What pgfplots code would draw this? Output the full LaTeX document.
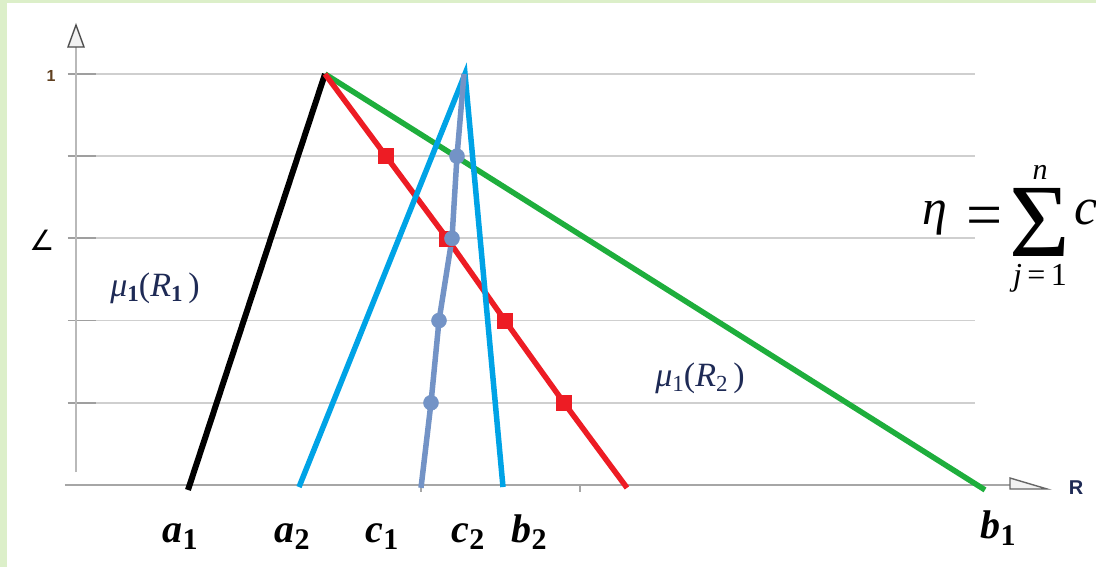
\documentclass[border=0pt]{standalone}
\usepackage{fontspec}
\setmainfont{Liberation Serif}
\setsansfont{Liberation Sans}
\newfontfamily\dejavu{DejaVu Sans}
\usepackage{pgfplots}
\pgfplotsset{compat=1.18}
\definecolor{bgreen}{HTML}{DCEFC9}
\definecolor{lred}{HTML}{ED1C24}
\definecolor{lgreen}{HTML}{1EAE3C}
\definecolor{lcyan}{HTML}{00A3E6}
\definecolor{lsteel}{HTML}{7393C6}
\definecolor{gridc}{HTML}{CFCFCF}
\definecolor{navy}{HTML}{1E2A55}
\newcommand{\lab}[2]{{\fontsize{40}{40}\selectfont\bfseries\itshape #1}{\raisebox{-7pt}{\fontsize{30}{30}\selectfont\bfseries #2}}}
\newcommand{\mulab}[2]{{\fontsize{34}{34}\selectfont\itshape μ}\raisebox{-5pt}{\fontsize{23}{23}\selectfont #1}{\fontsize{34}{34}\selectfont(\textit{R}}\raisebox{-5pt}{\fontsize{23}{23}\selectfont #2}{\fontsize{34}{34}\selectfont\,)}}
\newcommand{\sumstack}{\vbox{\offinterlineskip\halign{\hfil##\hfil\cr
  \fontsize{30}{30}\selectfont\itshape n\cr
  \noalign{\kern9pt}
  \fontsize{104}{104}\selectfont Σ\cr
  \noalign{\kern8pt}
  \fontsize{32}{32}\selectfont\textit{j}\,=\,1\cr}}}
\begin{document}
\begin{tikzpicture}[x=1pt,y=1pt]
\fill[bgreen] (0,0) rectangle (1096,567);
\fill[white] (7,0) rectangle (1096,564);
\begin{axis}[at={(68pt,82pt)}, anchor=south west, scale only axis,
  width=907pt, height=411pt, xmin=68, xmax=975, ymin=0, ymax=1,
  axis line style={draw=none}, xtick=\empty,
  ytick={0.2,0.4,0.6,0.8,1}, yticklabels={},
  ymajorgrids, grid style={gridc, line width=1.8pt},
  ytick pos=left, tick align=inside, major tick length=28pt,
  ytick style={color=gray!75, line width=1.8pt}, clip=false]
% axis lines
\draw[gray!70, line width=2.2pt] (axis cs:65,0) -- (axis cs:1010,0);
\draw[gray!55, line width=2.4pt] (axis cs:76,0.0316) -- (axis cs:76,1.0657);
\draw[black!70, line width=1.4pt, fill=gray!10] (axis cs:68,1.0657) -- (axis cs:76,1.1192) -- (axis cs:84,1.0657) -- cycle;
\draw[black!60, line width=1.4pt, fill=gray!10] (axis cs:1010,0.017) -- (axis cs:1047,-0.0097) -- (axis cs:1010,-0.0097) -- cycle;
\draw[gray!70, line width=1.8pt] (axis cs:580,0) -- (axis cs:580,-0.018);
\draw[gray!70, line width=1.8pt] (axis cs:421,0) -- (axis cs:421,-0.018);
% series
\addplot[lgreen, line width=5.5pt] coordinates {(325,1) (985,-0.012)};
\addplot[black, line width=6pt] coordinates {(188,-0.012) (325,1)};
\addplot[lred, line width=5.5pt, mark=square*, mark size=7.5pt, mark options={line width=0.5pt}, mark indices={2,3,4,5}] coordinates {(325,1) (386,0.8) (447,0.6) (505,0.4) (564,0.2) (627,-0.007)};
\addplot[lcyan, line width=5.5pt, line join=miter] coordinates {(299,-0.005) (465,1) (503,-0.005)};
\addplot[lsteel, line width=5.5pt, mark=*, mark size=7.5pt, mark options={line width=0.5pt}, mark indices={2,3,4,5}] coordinates {(421,-0.007) (431,0.2) (439,0.4) (452,0.6) (457,0.8) (464,1)};
% texts
\node[text=brown!50!black, font=\sffamily\bfseries\fontsize{16}{16}\selectfont] at (axis cs:51,0.995) {1};
\node at (axis cs:42,0.596) {\dejavu\fontsize{28}{28}\selectfont ∠};
\node[text=navy, font=\sffamily\bfseries\fontsize{20}{20}\selectfont] at (axis cs:1076,-0.007) {R};
\node[text=navy] at (axis cs:155,0.479) {\mulab{\bfseries 1}{\bfseries 1}};
\node[text=navy] at (axis cs:700,0.260) {\mulab{1}{2}};
\node[anchor=base] at (axis cs:180,-0.141) {\lab{a}{1}};
\node[anchor=base] at (axis cs:292,-0.141) {\lab{a}{2}};
\node[anchor=base] at (axis cs:382,-0.141) {\lab{c}{1}};
\node[anchor=base] at (axis cs:468,-0.141) {\lab{c}{2}};
\node[anchor=base] at (axis cs:529,-0.141) {\lab{b}{2}};
\node[anchor=base] at (axis cs:998,-0.130) {\lab{b}{1}};
% formula
\node[anchor=base, inner sep=0pt] at (axis cs:935,0.633) {\fontsize{50}{50}\selectfont\itshape η};
\node[inner sep=0pt] at (axis cs:985,0.640) {\fontsize{64}{64}\selectfont =};
\node[inner sep=0pt, anchor=north] at (axis cs:1040,0.7786) {\sumstack};
\node[anchor=base west, inner sep=0pt] at (axis cs:1074,0.633) {\fontsize{52}{52}\selectfont\itshape c};
\end{axis}
\pgfresetboundingbox
\path (0,0) rectangle (1096,567);
\end{tikzpicture}
\end{document}
